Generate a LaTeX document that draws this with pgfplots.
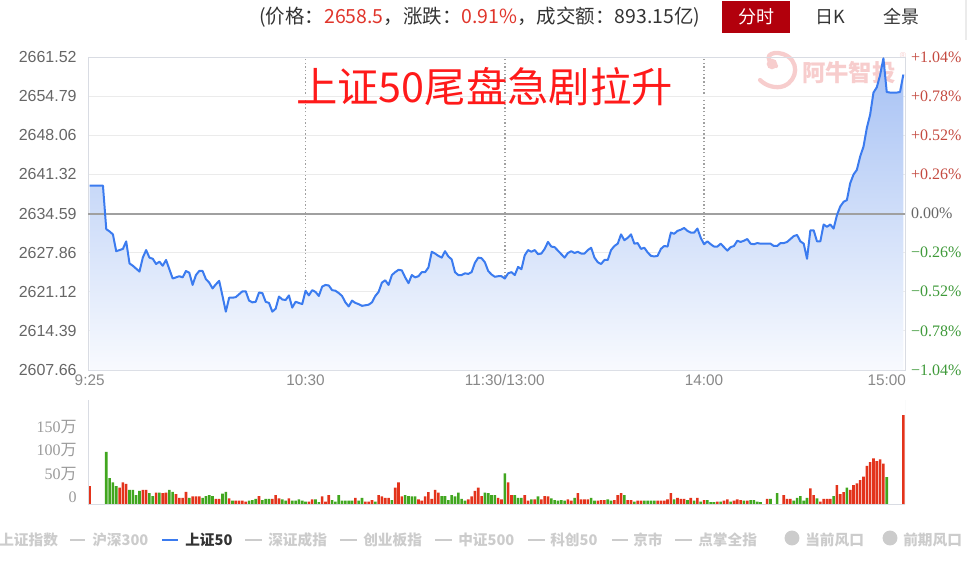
\documentclass[border=0pt]{standalone}
\usepackage{fontspec}
\setmainfont{Liberation Sans}
\newfontfamily\cjk{Noto Sans CJK SC}
\newfontfamily\serifnum{Liberation Serif}
\usepackage{pgfplots}
\usepackage{pgfplotstable}
\pgfplotsset{compat=1.18}

\definecolor{pline}{HTML}{3B7BEF}
\definecolor{pfilltop}{HTML}{A6C1F4}
\definecolor{pfillbot}{HTML}{F8FAFE}
\definecolor{gridc}{HTML}{EBEBEB}
\definecolor{zeroc}{HTML}{A0A0A0}
\definecolor{axc}{HTML}{D9DCE3}
\definecolor{lab}{HTML}{666666}
\definecolor{xlab}{HTML}{888888}
\definecolor{vlab}{HTML}{9A9A9A}
\definecolor{upred}{HTML}{C44A40}
\definecolor{dngreen}{HTML}{3F9A3A}
\definecolor{vred}{HTML}{E3331B}
\definecolor{vgreen}{HTML}{41A61F}
\definecolor{titlered}{HTML}{FF1A1A}
\definecolor{btnred}{HTML}{B2000C}
\definecolor{hdr}{HTML}{333333}
\definecolor{hred}{HTML}{E0352B}
\definecolor{legc}{HTML}{CCCCCC}
\definecolor{wm}{HTML}{F7CDCD}
\definecolor{dotc}{HTML}{A0A0A0}

% one-minute index prices; 0 = 9:25, 125 = 11:30/13:00, 245 = 15:00
\pgfplotstableread{
t p
0 2639.4
1 2639.4
2 2639.4
3 2639.4
4 2639.4
5 2631.9
6 2631.5
7 2631.0
8 2628.1
9 2628.3
10 2628.5
11 2629.8
12 2626.0
13 2625.6
14 2625.1
15 2624.6
16 2627.0
17 2628.3
18 2627.0
19 2626.8
20 2625.9
21 2626.3
22 2625.6
23 2626.6
24 2625.0
25 2623.4
26 2623.6
27 2623.8
28 2623.6
29 2624.7
30 2624.4
31 2622.3
32 2624.0
33 2624.7
34 2624.7
35 2623.3
36 2622.7
37 2621.7
38 2622.4
39 2623.0
40 2620.4
41 2617.7
42 2620.1
43 2620.1
44 2620.2
45 2620.7
46 2621.2
47 2621.2
48 2619.6
49 2619.3
50 2619.4
51 2621.0
52 2620.9
53 2619.4
54 2619.2
55 2617.7
56 2618.2
57 2620.3
58 2619.8
59 2619.7
60 2620.5
61 2618.4
62 2619.4
63 2619.2
64 2619.0
65 2621.3
66 2620.5
67 2621.4
68 2621.1
69 2620.4
70 2622.0
71 2622.3
72 2622.2
73 2621.4
74 2621.3
75 2620.9
76 2620.4
77 2619.3
78 2618.6
79 2619.6
80 2619.2
81 2619.0
82 2618.7
83 2618.8
84 2618.9
85 2619.3
86 2620.4
87 2621.1
88 2622.7
89 2623.1
90 2622.3
91 2624.0
92 2624.5
93 2624.9
94 2624.8
95 2623.6
96 2622.6
97 2624.0
98 2623.6
99 2623.8
100 2624.5
101 2624.5
102 2625.3
103 2628.0
104 2627.7
105 2627.3
106 2627.0
107 2628.1
108 2627.2
109 2626.7
110 2624.5
111 2624.0
112 2624.0
113 2624.3
114 2624.2
115 2624.5
116 2626.1
117 2627.0
118 2626.9
119 2626.2
120 2624.7
121 2624.1
122 2623.7
123 2623.8
124 2623.8
125 2623.4
126 2624.3
127 2624.5
128 2624.0
129 2625.4
130 2625.0
131 2627.4
132 2628.3
133 2628.0
134 2628.3
135 2627.6
136 2627.7
137 2628.5
138 2629.7
139 2628.9
140 2628.8
141 2628.2
142 2627.6
143 2627.0
144 2627.8
145 2628.1
146 2627.8
147 2628.0
148 2627.7
149 2627.7
150 2628.3
151 2628.7
152 2627.0
153 2626.2
154 2625.9
155 2626.6
156 2626.6
157 2628.3
158 2629.0
159 2629.4
160 2631.0
161 2630.0
162 2630.4
163 2631.0
164 2629.4
165 2629.5
166 2628.5
167 2628.7
168 2627.9
169 2627.3
170 2627.2
171 2627.3
172 2628.5
173 2629.0
174 2628.9
175 2631.3
176 2631.1
177 2631.6
178 2631.8
179 2632.1
180 2631.6
181 2631.3
182 2631.3
183 2632.0
184 2630.4
185 2629.3
186 2629.8
187 2629.3
188 2628.9
189 2628.9
190 2629.4
191 2628.8
192 2628.2
193 2628.8
194 2629.0
195 2629.9
196 2629.7
197 2629.9
198 2630.2
199 2629.4
200 2629.3
201 2629.5
202 2629.4
203 2629.4
204 2629.4
205 2629.4
206 2629.0
207 2629.0
208 2629.5
209 2629.5
210 2629.7
211 2630.2
212 2630.7
213 2630.9
214 2629.8
215 2629.4
216 2626.8
217 2631.7
218 2631.7
219 2629.8
220 2629.8
221 2632.7
222 2632.3
223 2632.7
224 2632.0
225 2634.3
226 2635.8
227 2636.6
228 2636.9
229 2639.8
230 2641.3
231 2642.1
232 2644.4
233 2646.1
234 2649.3
235 2651.6
236 2655.4
237 2656.3
238 2658.4
239 2661.3
240 2655.5
241 2655.4
242 2655.4
243 2655.4
244 2655.5
245 2658.5
}\pricetab

% traded volume per minute (unit: 10 thousand), rising minutes
\pgfplotstableread{
t v
0 38
9 35
10 46
11 43
16 30
17 30
20 24
22 23
23 24
26 21
27 13
28 13
29 26
31 16
32 16
33 16
38 11
39 11
42 12
44 7
45 7
46 7
47 5
51 17
55 11
56 19
57 12
60 12
66 5
67 10
70 16
71 5
72 19
80 13
83 5
84 5
85 8
87 19
88 16
89 13
90 13
92 35
93 46
94 16
99 10
100 7
101 16
102 25
103 11
104 30
105 24
114 10
115 16
116 28
117 35
118 17
123 13
124 10
126 46
127 19
131 19
132 7
134 10
136 10
137 17
138 16
144 10
145 7
147 23
148 10
149 10
150 10
153 7
154 8
155 8
158 8
159 19
160 23
162 8
163 8
165 7
166 7
171 7
172 7
173 7
174 10
175 23
177 13
178 11
179 11
181 13
183 13
185 8
189 5
191 7
192 10
194 7
195 10
196 8
198 7
204 11
209 19
210 11
211 11
217 33
218 19
220 5
221 11
222 11
223 11
225 40
226 21
227 25
229 30
230 40
231 44
232 51
233 58
234 81
235 89
236 97
237 91
238 95
239 86
245 189
}\volred

% traded volume per minute, falling minutes
\pgfplotstableread{
t v
5 111
6 55
7 46
8 38
12 30
13 30
14 19
15 28
18 23
19 17
21 24
24 30
25 26
30 13
34 13
35 17
36 19
37 17
40 22
41 26
43 7
48 7
49 8
50 11
52 8
53 11
54 11
58 10
59 7
61 7
62 7
63 10
64 7
65 5
68 10
69 4
73 8
74 5
75 19
76 7
77 7
78 7
79 7
81 7
82 13
86 5
91 8
95 19
96 17
97 16
98 16
106 17
107 17
108 8
109 19
110 16
111 24
112 11
113 7
119 24
120 23
121 19
122 19
125 65
128 19
129 13
130 13
133 10
135 16
139 12
140 8
141 7
142 8
143 7
146 13
151 13
152 7
156 10
157 7
161 19
164 5
167 7
168 7
169 7
170 7
176 10
180 8
182 7
184 5
186 8
187 4
188 4
190 5
193 5
197 7
199 8
200 8
201 5
202 4
205 11
207 23
212 7
213 13
214 17
215 7
216 13
219 12
224 17
228 35
240 57
}\volgreen

\begin{document}
\begin{tikzpicture}[x=0.75pt,y=-0.75pt]
\useasboundingbox (0,0) rectangle (969,560);

% ---------- header bar ----------
\node[anchor=west, inner sep=0pt, font=\cjk\fontsize{14.6}{14.6}\selectfont, text=hdr]
  at (259,17) {(价格：\textcolor{hred}{2658.5}，涨跌：\textcolor{hred}{0.91\%}，成交额：893.15亿)};
\fill[btnred] (722,1) rectangle (790,33);
\node[font=\cjk\fontsize{13.5}{13.5}\selectfont, text=white] at (756,17) {分时};
\node[font=\cjk\fontsize{13.5}{13.5}\selectfont, text=hdr] at (830,17) {日K};
\node[font=\cjk\fontsize{13.5}{13.5}\selectfont, text=hdr] at (901,17) {全景};
\draw[gridc, line width=2pt] (966,0) -- (966,40);

% ---------- watermark ----------
\draw[wm, line width=3.2pt, line cap=round]
  (776,66) .. controls (762,58) and (770,50) .. (783,54)
  .. controls (800,60) and (798,80) .. (784,86)
  .. controls (776,89) and (766,86) .. (760,80);
\fill[wm] (772,64) circle (4pt);
\node[anchor=west, inner sep=0pt, font=\cjk\bfseries\fontsize{17.5}{17.5}\selectfont, text=wm]
  at (802,73) {阿牛智投};
\node[inner sep=0pt, font=\fontsize{6.5}{6.5}\selectfont, text=wm] at (903,56) {\textregistered};

% ---------- price panel ----------
\begin{axis}[
  at={(66pt,-277.5pt)}, anchor=south west,
  scale only axis, width=612.75pt, height=234.75pt,
  xmin=-0.5, xmax=245.5, ymin=2607.66, ymax=2661.52,
  axis line style={draw=axc, line width=0.75pt},
  major tick length=0pt,
  ytick={2607.66,2614.39,2621.12,2627.86,2634.59,2641.32,2648.06,2654.79,2661.52},
  yticklabels={2607.66,2614.39,2621.12,2627.86,2634.59,2641.32,2648.06,2654.79,2661.52},
  ymajorgrids, y grid style={gridc, line width=0.75pt},
  xtick={65,125,185}, xticklabels={10:30,11:30/13:00,14:00},
  xmajorgrids, x grid style={dotc, line width=1.1pt, dash pattern=on 1pt off 1.8pt},
  extra x ticks={0,245},
  extra x tick labels={9:25,\makebox[0pt][r]{15:00\hspace{-2pt}}},
  extra x tick style={grid=none},
  yticklabel style={font=\fontsize{12}{12}\selectfont, text=lab, xshift=-5pt},
  xticklabel style={font=\fontsize{11.5}{11.5}\selectfont, text=xlab},
  clip=true,
]
\addplot[draw=none, top color=pfilltop, bottom color=pfillbot]
  table[x=t, y=p] {\pricetab} -- (axis cs:245,2607.66) -- (axis cs:0,2607.66) -- cycle;
\draw[zeroc, line width=1.5pt] (axis cs:-0.5,2634.59) -- (axis cs:245.5,2634.59);
\addplot[pline, line width=1.5pt, line join=round] table[x=t, y=p] {\pricetab};
\end{axis}

% right-hand percentage scale
\begin{axis}[
  at={(66pt,-277.5pt)}, anchor=south west,
  scale only axis, width=612.75pt, height=234.75pt,
  xmin=-0.5, xmax=245.5, ymin=2607.66, ymax=2661.52,
  axis x line=none, axis y line*=right,
  y axis line style={draw=none},
  major tick length=0pt,
  ytick={2607.66,2614.39,2621.12,2627.86,2634.59,2641.32,2648.06,2654.79,2661.52},
  yticklabels={
    {\textcolor{dngreen}{−1.04\%}},
    {\textcolor{dngreen}{−0.78\%}},
    {\textcolor{dngreen}{−0.52\%}},
    {\textcolor{dngreen}{−0.26\%}},
    {\textcolor{lab}{0.00\%}},
    {\textcolor{upred}{+0.26\%}},
    {\textcolor{upred}{+0.52\%}},
    {\textcolor{upred}{+0.78\%}},
    {\textcolor{upred}{+1.04\%}}},
  yticklabel style={font=\serifnum\fontsize{12}{12}\selectfont, anchor=west, xshift=1pt},
]
\end{axis}

% ---------- volume panel ----------
\begin{axis}[
  at={(66pt,-378pt)}, anchor=south west,
  scale only axis, width=612.75pt, height=78pt,
  xmin=-0.5, xmax=245.5, ymin=0, ymax=221,
  axis line style={draw=none},
  major tick length=0pt,
  xtick=\empty,
  ytick={0,50,100,150},
  yticklabels={0,50{\cjk 万},100{\cjk 万},150{\cjk 万}},
  yticklabel style={font=\serifnum\fontsize{12}{12}\selectfont, text=vlab, yshift=5pt, xshift=-5pt},
  ybar, bar width=1.95pt,
]
\addplot[fill=vred, draw=none, bar shift=0pt] table[x=t, y=v] {\volred};
\addplot[fill=vgreen, draw=none, bar shift=0pt] table[x=t, y=v] {\volgreen};
\draw[axc, line width=0.75pt] (rel axis cs:0,1) -- (rel axis cs:0,0) -- (rel axis cs:1,0) -- (rel axis cs:1,1);
\end{axis}

% ---------- index selector ----------
\begin{scope}[every node/.style={anchor=west, inner sep=0pt, font=\cjk\bfseries\fontsize{11}{11}\selectfont, text=legc}]
\node at (-1,540) {上证指数};
\draw[legc, line width=1.6pt] (70,540) -- (85,540);
\node at (92,540) {沪深300};
\draw[pline, line width=1.6pt] (162,540) -- (178,540);
\node[text=hdr] at (185,540) {上证50};
\draw[legc, line width=1.6pt] (245,540) -- (262,540);
\node at (268,540) {深证成指};
\draw[legc, line width=1.6pt] (340,540) -- (357,540);
\node at (363,540) {创业板指};
\draw[legc, line width=1.6pt] (435,540) -- (452,540);
\node at (458,540) {中证500};
\draw[legc, line width=1.6pt] (528,540) -- (545,540);
\node at (550,540) {科创50};
\draw[legc, line width=1.6pt] (612,540) -- (628,540);
\node at (633,540) {京市};
\draw[legc, line width=1.6pt] (675,540) -- (692,540);
\node at (698,540) {点掌全指};
\fill[legc] (792,538) circle (5.6pt);
\node at (805,540) {当前风口};
\fill[legc] (890,538) circle (5.6pt);
\node at (903,540) {前期风口};
\end{scope}

% ---------- headline ----------
\node[anchor=west, inner sep=0pt, font=\cjk\fontsize{31}{31}\selectfont, text=titlered]
  at (296,87) {上证50尾盘急剧拉升};
\end{tikzpicture}
\end{document}
